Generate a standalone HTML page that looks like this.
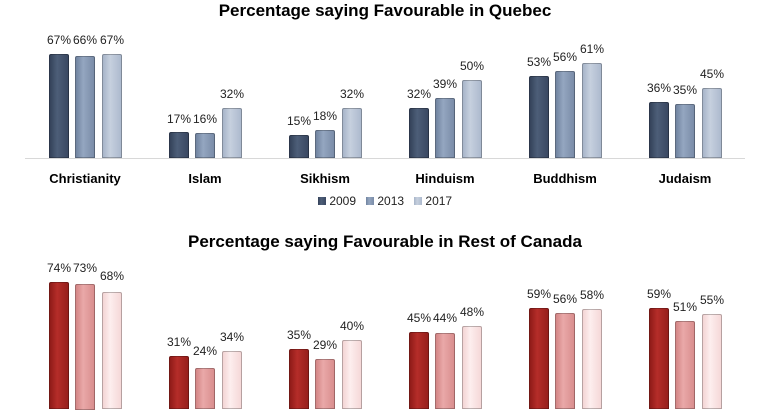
<!DOCTYPE html><html><head><style>
body{margin:0;width:770px;height:400px;overflow:hidden;background:#fff;font-family:"Liberation Sans",sans-serif;position:relative}
.t{position:absolute;left:0;width:770px;text-align:center;font-weight:bold;font-size:17px;color:#000}
.b{position:absolute;width:20px;border:1px solid rgba(0,0,0,.25);box-sizing:border-box;border-radius:2px 2px 0 0}
.a{background:linear-gradient(90deg,#34425a,#4d5e78 40%,#3a4862)}
.c{background:linear-gradient(90deg,#7184a0,#94a6c0 40%,#7a8ca8)}
.d{background:linear-gradient(90deg,#a8b5c9,#c6d0de 40%,#adbace)}
.e{background:linear-gradient(90deg,#8f1b18,#b52d29 40%,#971f1c)}
.f{background:linear-gradient(90deg,#d48686,#e9a8a8 40%,#d98e8e)}
.g{background:linear-gradient(90deg,#f3d4d4,#fdeeee 40%,#f5d8d8)}
.l{position:absolute;width:44px;text-align:center;font-size:12px;color:#222}
.k{position:absolute;width:120px;text-align:center;font-size:13px;font-weight:bold;top:171px}
.ax{position:absolute;left:25px;width:720px;height:1px;background:#d8d8d8}
</style></head><body>
<div class="t" style="top:1px">Percentage saying Favourable in Quebec</div>
<div class="ax" style="top:158px"></div>
<div class="b a" style="left:49px;top:54px;height:104px"></div><div class="l" style="left:37px;top:33px">67%</div>
<div class="b c" style="left:75px;top:56px;height:102px"></div><div class="l" style="left:63px;top:33px">66%</div>
<div class="b d" style="left:102px;top:54px;height:104px"></div><div class="l" style="left:90px;top:33px">67%</div>
<div class="b a" style="left:169px;top:132px;height:26px"></div><div class="l" style="left:157px;top:112px">17%</div>
<div class="b c" style="left:195px;top:133px;height:25px"></div><div class="l" style="left:183px;top:112px">16%</div>
<div class="b d" style="left:222px;top:108px;height:50px"></div><div class="l" style="left:210px;top:87px">32%</div>
<div class="b a" style="left:289px;top:135px;height:23px"></div><div class="l" style="left:277px;top:114px">15%</div>
<div class="b c" style="left:315px;top:130px;height:28px"></div><div class="l" style="left:303px;top:109px">18%</div>
<div class="b d" style="left:342px;top:108px;height:50px"></div><div class="l" style="left:330px;top:87px">32%</div>
<div class="b a" style="left:409px;top:108px;height:50px"></div><div class="l" style="left:397px;top:87px">32%</div>
<div class="b c" style="left:435px;top:98px;height:60px"></div><div class="l" style="left:423px;top:77px">39%</div>
<div class="b d" style="left:462px;top:80px;height:78px"></div><div class="l" style="left:450px;top:59px">50%</div>
<div class="b a" style="left:529px;top:76px;height:82px"></div><div class="l" style="left:517px;top:55px">53%</div>
<div class="b c" style="left:555px;top:71px;height:87px"></div><div class="l" style="left:543px;top:50px">56%</div>
<div class="b d" style="left:582px;top:63px;height:95px"></div><div class="l" style="left:570px;top:42px">61%</div>
<div class="b a" style="left:649px;top:102px;height:56px"></div><div class="l" style="left:637px;top:81px">36%</div>
<div class="b c" style="left:675px;top:104px;height:54px"></div><div class="l" style="left:663px;top:83px">35%</div>
<div class="b d" style="left:702px;top:88px;height:70px"></div><div class="l" style="left:690px;top:67px">45%</div>
<div class="k" style="left:25px">Christianity</div><div class="k" style="left:145px">Islam</div><div class="k" style="left:265px">Sikhism</div><div class="k" style="left:385px">Hinduism</div><div class="k" style="left:505px">Buddhism</div><div class="k" style="left:625px">Judaism</div>
<div style="position:absolute;top:194px;left:318px;font-size:12px;color:#222;white-space:nowrap">
<span class="a" style="display:inline-block;width:8px;height:8px"></span> 2009&nbsp;&nbsp;&nbsp;<span class="c" style="display:inline-block;width:8px;height:8px"></span> 2013&nbsp;&nbsp;&nbsp;<span class="d" style="display:inline-block;width:8px;height:8px"></span> 2017</div>
<div class="t" style="top:232px">Percentage saying Favourable in Rest of Canada</div>
<div class="b e" style="left:49px;top:282px;height:127px"></div><div class="l" style="left:37px;top:261px">74%</div>
<div class="b f" style="left:75px;top:284px;height:126px"></div><div class="l" style="left:63px;top:261px">73%</div>
<div class="b g" style="left:102px;top:292px;height:117px"></div><div class="l" style="left:90px;top:269px">68%</div>
<div class="b e" style="left:169px;top:356px;height:53px"></div><div class="l" style="left:157px;top:335px">31%</div>
<div class="b f" style="left:195px;top:368px;height:41px"></div><div class="l" style="left:183px;top:344px">24%</div>
<div class="b g" style="left:222px;top:351px;height:58px"></div><div class="l" style="left:210px;top:330px">34%</div>
<div class="b e" style="left:289px;top:349px;height:60px"></div><div class="l" style="left:277px;top:328px">35%</div>
<div class="b f" style="left:315px;top:359px;height:50px"></div><div class="l" style="left:303px;top:338px">29%</div>
<div class="b g" style="left:342px;top:340px;height:69px"></div><div class="l" style="left:330px;top:319px">40%</div>
<div class="b e" style="left:409px;top:332px;height:77px"></div><div class="l" style="left:397px;top:311px">45%</div>
<div class="b f" style="left:435px;top:333px;height:76px"></div><div class="l" style="left:423px;top:311px">44%</div>
<div class="b g" style="left:462px;top:326px;height:83px"></div><div class="l" style="left:450px;top:305px">48%</div>
<div class="b e" style="left:529px;top:308px;height:101px"></div><div class="l" style="left:517px;top:287px">59%</div>
<div class="b f" style="left:555px;top:313px;height:96px"></div><div class="l" style="left:543px;top:292px">56%</div>
<div class="b g" style="left:582px;top:309px;height:100px"></div><div class="l" style="left:570px;top:288px">58%</div>
<div class="b e" style="left:649px;top:308px;height:101px"></div><div class="l" style="left:637px;top:287px">59%</div>
<div class="b f" style="left:675px;top:321px;height:88px"></div><div class="l" style="left:663px;top:300px">51%</div>
<div class="b g" style="left:702px;top:314px;height:95px"></div><div class="l" style="left:690px;top:293px">55%</div>
</body></html>
